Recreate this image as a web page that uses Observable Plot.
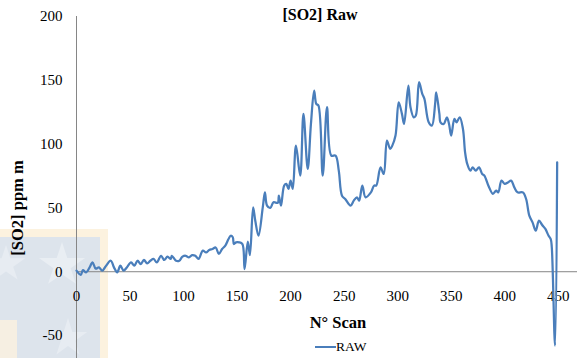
<!DOCTYPE html>
<html>
<head>
<meta charset="utf-8">
<script src="https://cdn.jsdelivr.net/npm/d3@7"></script>
<script src="https://cdn.jsdelivr.net/npm/@observablehq/plot@0.6"></script>
<style>
  html, body { margin: 0; padding: 0; background: #fff; }
  #wrap { position: relative; width: 588px; height: 358px; overflow: hidden; font-family: "Liberation Serif", "Times New Roman", serif; }
  #wrap svg { position: absolute; left: 0; top: 0; background: transparent; }
  .lbl { position: absolute; color: #000; white-space: nowrap; }
  .wm { position: absolute; }
</style>
</head>
<body>
<div id="wrap">
  <div class="wm" style="left:0;top:229px;width:108px;height:129px;background:#fcf2df;"></div>
  <div class="wm" style="left:0;top:237px;width:100px;height:121px;background:#dde4ec;"></div>
  <div class="wm" style="left:0;top:320px;width:17px;height:38px;background:#f6efe2;"></div>
  <div class="wm" style="left:38px;top:242px;width:48px;height:46px;background:#e9eef3;clip-path:polygon(50% 0%,61% 35%,98% 35%,68% 57%,79% 91%,50% 70%,21% 91%,32% 57%,2% 35%,39% 35%);"></div>
  <div class="wm" style="left:-14px;top:245px;width:40px;height:38px;background:#e7ecf2;clip-path:polygon(50% 0%,61% 35%,98% 35%,68% 57%,79% 91%,50% 70%,21% 91%,32% 57%,2% 35%,39% 35%);"></div>
  <div class="wm" style="left:48px;top:318px;width:40px;height:40px;background:#e7ecf2;clip-path:polygon(50% 0%,61% 35%,98% 35%,68% 57%,79% 91%,50% 70%,21% 91%,32% 57%,2% 35%,39% 35%);"></div>
  <div class="lbl" style="left:0;width:640px;top:6px;text-align:center;font-weight:bold;font-size:16px;">[SO2] Raw</div>
  <div class="lbl" style="left:0;width:676px;top:313px;text-align:center;font-weight:bold;font-size:16.5px;">N° Scan</div>
  <div class="lbl" style="left:18px;top:208px;transform:translate(-50%,-50%) rotate(-90deg);font-weight:bold;font-size:16.5px;">[SO2] ppm m</div>
  <div class="lbl" style="left:315px;top:339px;font-size:13.5px;display:flex;align-items:center;">
    <span style="display:inline-block;width:21px;height:2.5px;background:#4a7ebb;margin-right:0px;"></span><span>RAW</span>
  </div>
</div>
<script>
const scans = [0,4,6,9,12,15,18,21,24,27,32,35,38,41,44,47,51,54,57,60,63,66,69,72,75,79,82,85,88,89,93,96,99,102,105,108,111,114,118,121,124,127,130,133,136,139,142,144,146,147,149,152,155,157,160,162,165,167,170,174,176,178,181,184,188,189,191,194,196,198,200,202,205,209,212,216,219,222,224,226,230,234,238,242,245,248,251,256,259,262,264,267,270,275,278,280,284,287,290,293,295,298,301,304,306,310,312,315,317,320,323,325,329,332,335,336,339,340,343,346,348,350,353,355,358,361,363,365,368,370,373,376,379,381,385,389,392,394,397,400,403,406,409,412,417,420,423,426,429,432,435,438,441,443,444,447,449];
const raw = [0.8,-2.4,1.3,-0.5,3,7.3,2.4,3.4,0.8,3.9,8.6,3.4,-0.5,4.7,0.8,3.4,7.3,4.7,8.6,6,9.2,6.5,8.6,10,7.3,12.5,9.2,11.8,10,12.5,8.6,8.6,11.8,12.5,11.2,13,12.5,10,16.5,15.1,17,17.8,19,13.9,17.8,20.4,25.6,28.2,27,21.7,23,23,21.7,2,23.5,13,50.4,40,28.2,50.4,62.2,51.8,50,54.4,54,59.6,51.8,67.5,68.8,64.9,71.4,64.9,98.8,75.3,123.7,80.5,115.8,142,131.5,130.2,75.3,128.9,91,91,79.2,59.6,57,51.8,55.7,58.3,55.7,67.5,58.3,62.2,67.5,67.5,81.8,76.6,102.7,96.2,98.8,106.7,132.8,123.7,115.8,145.9,128.9,121,122.4,148.5,139.4,135.4,117.1,114.5,131.5,140.6,123.7,117.1,115.8,121,115.8,106.7,119.7,117.1,121,111.9,93.5,84.5,79.2,81.8,79.2,81.8,76.6,75.3,67,61,63.5,62.2,71.4,68.8,70,71.4,66.1,62.2,62.2,57,43.9,38.7,32.2,40,36.6,33.5,28.2,25.6,19,-58,85.7];
const xTicks = [0,50,100,150,200,250,300,350,400,450];
const yTicks = [-50,0,50,100,150,200];

const data = scans.map((s, i) => ({scan: s, value: raw[i]}));

const chart = Plot.plot({
  width: 588,
  height: 358,
  marginLeft: 76,
  marginRight: 11,
  marginTop: 16,
  marginBottom: 0,
  style: {fontFamily: "Liberation Serif, Times New Roman, serif", fontSize: "15px", background: "transparent", color: "#000"},
  x: {domain: [0, 468], axis: null},
  y: {domain: [-68, 200], axis: null},
  marks: [
    Plot.ruleY([0], {stroke: "#868686", strokeWidth: 1}),
    Plot.ruleX([0], {stroke: "#868686", strokeWidth: 1}),
    Plot.axisY({ticks: yTicks, tickSize: 0, tickPadding: 14, label: null, fontSize: 15, tickFormat: d => String(d)}),
    Plot.text(xTicks, {x: d => d, y: 0, dy: 24, text: d => String(d), fontSize: 15, fill: "#000"}),
    Plot.line(data, {x: "scan", y: "value", stroke: "#4a7ebb", strokeWidth: 2.25, curve: "catmull-rom"})
  ]
});
document.getElementById("wrap").appendChild(chart);
</script>
</body>
</html>
